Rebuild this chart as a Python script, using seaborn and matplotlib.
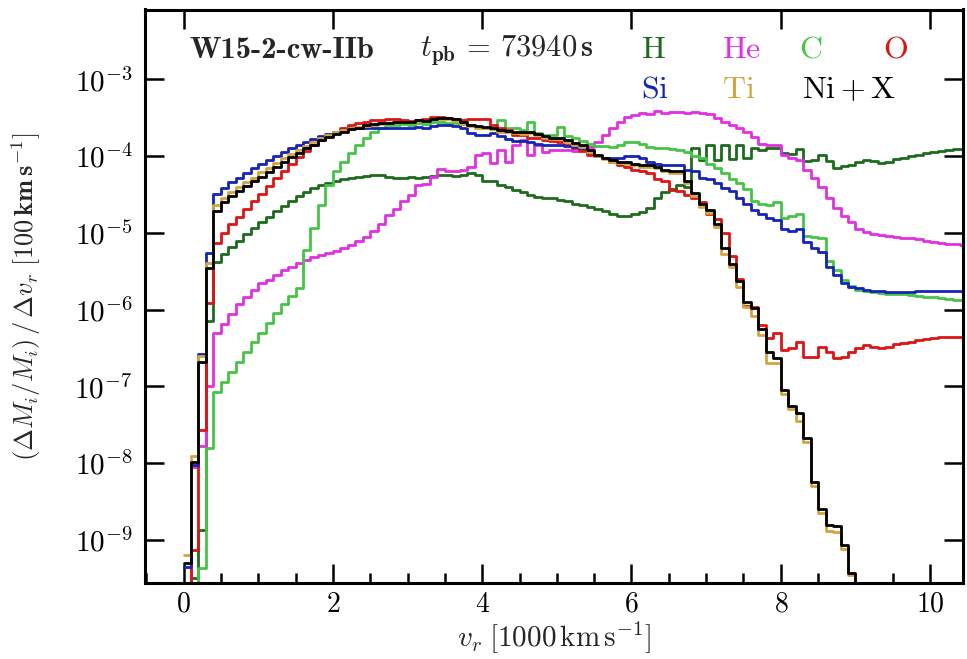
import numpy as np
import pandas as pd
import seaborn as sns
import matplotlib
matplotlib.use("Agg")
import matplotlib.pyplot as plt
from matplotlib.ticker import FixedLocator, MultipleLocator, NullLocator, FuncFormatter

# Radial-velocity bins of 100 km/s (in units of 1000 km/s)
edges = np.round(np.arange(106) * 0.1, 1)

elements = ["H", "He", "C", "O", "Si", "Ti", "Ni+X"]
colors = {
    "H": "#1d6b1d",
    "He": "#e030e0",
    "C": "#46c446",
    "O": "#dd1414",
    "Si": "#1424b4",
    "Ti": "#d4a53e",
    "Ni+X": "#000000",
}

# log10 of (dM_i/M_i)/dv_r per bin; -12 marks bins far below the plotted range
log_H = [
    -12, -9.5, -8.87, -6.15, -5.38, -5.28, -5.19, -5.10, -5.02, -4.94,
    -4.86, -4.79, -4.72, -4.65, -4.58, -4.52, -4.47, -4.42, -4.38, -4.35,
    -4.32, -4.30, -4.28, -4.27, -4.26, -4.25, -4.25, -4.27, -4.28, -4.28,
    -4.27, -4.28, -4.27, -4.26, -4.25, -4.24, -4.26, -4.25, -4.22, -4.24,
    -4.33, -4.33, -4.37, -4.40, -4.44, -4.47, -4.50, -4.53, -4.55, -4.55,
    -4.57, -4.58, -4.62, -4.64, -4.66, -4.69, -4.72, -4.76, -4.78, -4.78,
    -4.75, -4.73, -4.68, -4.55, -4.47, -4.43, -4.38, -4.40, -3.90, -4.05,
    -3.85, -4.05, -3.85, -4.04, -3.86, -4.02, -3.90, -3.92, -3.89, -3.90,
    -3.96, -3.97, -3.91, -4.06, -4.05, -3.98, -4.06, -4.15, -4.13, -4.12,
    -4.08, -4.05, -4.06, -4.09, -4.08, -4.04, -4.02, -4.00, -3.98, -3.96,
    -3.94, -3.93, -3.92, -3.91, -3.91,
]
log_He = [
    -12, -8.05, -7.78, -7.00, -6.30, -6.18, -6.05, -5.92, -5.83, -5.74,
    -5.65, -5.61, -5.55, -5.48, -5.44, -5.39, -5.35, -5.32, -5.29, -5.26,
    -5.23, -5.20, -5.16, -5.11, -5.05, -4.98, -4.88, -4.77, -4.69, -4.58,
    -4.50, -4.38, -4.36, -4.27, -4.17, -4.20, -4.20, -4.18, -4.14, -3.98,
    -3.96, -4.09, -3.92, -4.07, -3.85, -3.79, -3.98, -3.85, -3.94, -3.92,
    -3.92, -3.92, -3.93, -3.92, -3.88, -3.81, -3.72, -3.63, -3.55, -3.49,
    -3.46, -3.44, -3.45, -3.41, -3.44, -3.43, -3.42, -3.44, -3.42, -3.44,
    -3.45, -3.50, -3.55, -3.60, -3.63, -3.68, -3.75, -3.84, -3.86, -3.86,
    -3.98, -4.02, -4.05, -4.18, -4.28, -4.40, -4.55, -4.68, -4.78, -4.86,
    -4.95, -4.99, -5.01, -5.03, -5.04, -5.05, -5.06, -5.07, -5.08, -5.10,
    -5.12, -5.13, -5.14, -5.15, -5.16,
]
log_C = [
    -12, -12, -9.36, -7.80, -7.07, -6.94, -6.81, -6.68, -6.55, -6.42,
    -6.30, -6.17, -6.04, -5.92, -5.82, -5.72, -5.22, -4.94, -4.64, -4.37,
    -4.20, -4.07, -3.96, -3.85, -3.76, -3.68, -3.63, -3.60, -3.60, -3.58,
    -3.60, -3.57, -3.58, -3.56, -3.55, -3.57, -3.57, -3.58, -3.60, -3.62,
    -3.64, -3.65, -3.53, -3.64, -3.64, -3.66, -3.55, -3.70, -3.72, -3.72,
    -3.62, -3.74, -3.76, -3.80, -3.84, -3.87, -3.87, -3.88, -3.86, -3.82,
    -3.82, -3.84, -3.88, -3.90, -3.90, -3.91, -3.92, -3.95, -4.00, -4.02,
    -4.10, -4.15, -4.22, -4.30, -4.35, -4.43, -4.58, -4.62, -4.64, -4.60,
    -4.80, -4.78, -4.76, -5.04, -5.05, -5.07, -5.37, -5.48, -5.61, -5.69,
    -5.74, -5.76, -5.77, -5.78, -5.79, -5.80, -5.80, -5.81, -5.82, -5.83,
    -5.84, -5.85, -5.86, -5.87, -5.88,
]
log_O = [
    -12, -9.13, -7.57, -5.91, -5.13, -5.00, -4.89, -4.79, -4.69, -4.59,
    -4.49, -4.39, -4.29, -4.19, -4.10, -4.01, -3.93, -3.86, -3.79, -3.73,
    -3.68, -3.64, -3.60, -3.57, -3.55, -3.53, -3.53, -3.52, -3.52, -3.53,
    -3.54, -3.53, -3.51, -3.49, -3.49, -3.50, -3.52, -3.53, -3.52, -3.51,
    -3.52, -3.60, -3.63, -3.66, -3.72, -3.73, -3.76, -3.76, -3.79, -3.80,
    -3.82, -3.86, -3.89, -3.93, -3.98, -4.00, -4.02, -4.08, -4.12, -4.14,
    -4.18, -4.20, -4.22, -4.30, -4.32, -4.44, -4.46, -4.50, -4.55, -4.60,
    -4.75, -4.82, -5.00, -5.30, -5.60, -5.95, -5.97, -6.20, -6.37, -6.30,
    -6.52, -6.50, -6.42, -6.61, -6.62, -6.48, -6.55, -6.63, -6.62, -6.55,
    -6.50, -6.46, -6.48, -6.50, -6.48, -6.45, -6.44, -6.42, -6.40, -6.38,
    -6.37, -6.36, -6.35, -6.35, -6.35,
]
log_Si = [
    -9.35, -8.02, -6.58, -5.26, -4.49, -4.41, -4.34, -4.28, -4.22, -4.15,
    -4.10, -4.05, -4.00, -3.95, -3.90, -3.86, -3.82, -3.78, -3.74, -3.71,
    -3.68, -3.66, -3.64, -3.63, -3.63, -3.63, -3.64, -3.63, -3.64, -3.63,
    -3.64, -3.62, -3.63, -3.61, -3.60, -3.60, -3.61, -3.64, -3.70, -3.72,
    -3.72, -3.70, -3.74, -3.78, -3.80, -3.80, -3.82, -3.84, -3.85, -3.86,
    -3.86, -3.87, -3.88, -3.90, -3.95, -4.00, -4.02, -4.03, -4.02, -4.00,
    -4.00, -4.02, -4.08, -4.10, -4.12, -4.12, -4.12, -4.18, -4.20, -4.28,
    -4.30, -4.35, -4.42, -4.45, -4.55, -4.62, -4.70, -4.75, -4.80, -4.83,
    -4.95, -4.97, -4.95, -5.12, -5.20, -5.25, -5.45, -5.55, -5.65, -5.70,
    -5.72, -5.74, -5.76, -5.76, -5.77, -5.77, -5.77, -5.77, -5.76, -5.76,
    -5.76, -5.76, -5.76, -5.76, -5.76,
]
log_Ti = [
    -9.20, -7.90, -6.60, -5.39, -4.64, -4.55, -4.47, -4.40, -4.34, -4.28,
    -4.21, -4.15, -4.09, -4.03, -3.97, -3.92, -3.87, -3.82, -3.77, -3.72,
    -3.69, -3.66, -3.64, -3.62, -3.61, -3.59, -3.58, -3.57, -3.56, -3.56,
    -3.55, -3.54, -3.54, -3.52, -3.51, -3.51, -3.54, -3.58, -3.61, -3.63,
    -3.64, -3.65, -3.68, -3.69, -3.70, -3.71, -3.70, -3.73, -3.76, -3.78,
    -3.78, -3.81, -3.85, -3.88, -3.94, -4.00, -4.04, -4.07, -4.09, -4.10,
    -4.12, -4.14, -4.14, -4.16, -4.20, -4.22, -4.22, -4.35, -4.52, -4.66,
    -4.74, -4.92, -5.28, -5.45, -5.70, -5.97, -6.08, -6.33, -6.70, -6.70,
    -7.10, -7.30, -7.45, -7.72, -8.30, -8.65, -8.88, -8.90, -9.12, -9.45,
    -12, -12, -12, -12, -12, -12, -12, -12, -12, -12,
    -12, -12, -12, -12, -12,
]
log_NiX = [
    -9.30, -7.98, -6.68, -5.46, -4.72, -4.60, -4.52, -4.45, -4.39, -4.33,
    -4.27, -4.21, -4.14, -4.07, -4.01, -3.96, -3.90, -3.85, -3.79, -3.75,
    -3.71, -3.68, -3.65, -3.63, -3.60, -3.58, -3.57, -3.57, -3.56, -3.55,
    -3.55, -3.53, -3.54, -3.52, -3.50, -3.50, -3.52, -3.56, -3.60, -3.61,
    -3.62, -3.63, -3.66, -3.67, -3.68, -3.69, -3.68, -3.71, -3.74, -3.76,
    -3.76, -3.79, -3.83, -3.86, -3.92, -3.98, -4.02, -4.05, -4.07, -4.08,
    -4.10, -4.12, -4.12, -4.14, -4.18, -4.20, -4.20, -4.33, -4.48, -4.62,
    -4.70, -4.88, -5.20, -5.40, -5.62, -5.90, -5.98, -6.25, -6.55, -6.63,
    -7.05, -7.25, -7.34, -7.67, -8.25, -8.60, -8.80, -8.82, -9.07, -9.43,
    -12, -12, -12, -12, -12, -12, -12, -12, -12, -12,
    -12, -12, -12, -12, -12,
]

series = {
    "H": log_H, "He": log_He, "C": log_C, "O": log_O,
    "Si": log_Si, "Ti": log_Ti, "Ni+X": log_NiX,
}

# Long-form table: one row per bin edge, last value repeated to close the final step
frames = []
for name in elements:
    logs = np.asarray(series[name], dtype=float)
    frames.append(pd.DataFrame({
        "v": edges,
        "dmdv": 10.0 ** np.append(logs, logs[-1]),
        "element": name,
    }))
df = pd.concat(frames, ignore_index=True)

sns.set_theme(style="ticks")
plt.rcParams.update({
    "font.family": "serif",
    "font.serif": ["cmr10", "DejaVu Serif"],
    "mathtext.fontset": "cm",
    "axes.formatter.use_mathtext": True,
    "axes.unicode_minus": False,
})

fig = plt.figure(figsize=(9.67, 6.59), dpi=100)
ax = fig.add_axes([145 / 967, 1 - 583 / 659, (963 - 145) / 967, (583 - 9.5) / 659])

sns.lineplot(
    data=df, x="v", y="dmdv", hue="element", hue_order=elements,
    palette=colors, estimator=None, sort=False, drawstyle="steps-post",
    linewidth=2.0, legend=False, ax=ax,
)

ax.set_yscale("log")
ax.set_xlim(-0.516, 10.44)
ax.set_ylim(10 ** -9.56, 10 ** -2.09)

ax.xaxis.set_major_locator(MultipleLocator(2))
ax.xaxis.set_minor_locator(MultipleLocator(0.5))
ax.xaxis.set_major_formatter(FuncFormatter(lambda v, _: r"$\mathrm{%d}$" % round(v)))
ax.yaxis.set_major_locator(FixedLocator([10.0 ** k for k in range(-9, -2)]))
ax.yaxis.set_minor_locator(NullLocator())
ax.yaxis.set_major_formatter(
    FuncFormatter(lambda y, _: r"$\mathbf{10^{%d}}$" % round(np.log10(y)))
)

for side in ax.spines.values():
    side.set_linewidth(2.2)
    side.set_color("black")
ax.tick_params(which="both", direction="in", top=True, right=True,
               width=1.8, colors="black")
ax.tick_params(which="major", length=14)
ax.tick_params(which="minor", length=7, top=False)
ax.tick_params(axis="x", pad=6, labelsize=20)
ax.tick_params(axis="y", pad=9, labelsize=21)

ax.set_xlabel(r"$v_r\;[\mathrm{1000\,km\,s^{-1}}]$", fontsize=21)
ax.xaxis.label.set_verticalalignment("center")
ax.xaxis.set_label_coords(0.5, -0.095)
ax.set_ylabel(r"$(\mathbf{\Delta} M_i/M_i)\,/\,\mathbf{\Delta} v_r\;[\mathbf{100\,km\,s^{-1}}]$",
              fontsize=19)
ax.yaxis.set_label_coords(-0.125, 0.5)
ax.grid(False)


def fx(px):
    return px / 967


def fy(py):
    return 1 - py / 659


fig.text(fx(189), fy(50), "W15-2-cw-IIb", family="cmb10", fontsize=22, va="center")
fig.text(fx(420), fy(50), r"$t_{\mathbf{pb}}\,\mathbf{=\,73940\,s}$", fontsize=22, va="center")
labels = [
    ("H", r"$\mathrm{H}$", 641, 50), ("He", r"$\mathrm{He}$", 722, 50),
    ("C", r"$\mathrm{C}$", 799, 50), ("O", r"$\mathrm{O}$", 883, 50),
    ("Si", r"$\mathrm{Si}$", 641, 90), ("Ti", r"$\mathrm{Ti}$", 722, 90),
    ("Ni+X", r"$\mathrm{Ni}+\mathrm{X}$", 802, 90),
]
for key, text, px, py in labels:
    fig.text(fx(px), fy(py), text, fontsize=23, va="center", color=colors[key])

fig.savefig("out.png", dpi=100)
